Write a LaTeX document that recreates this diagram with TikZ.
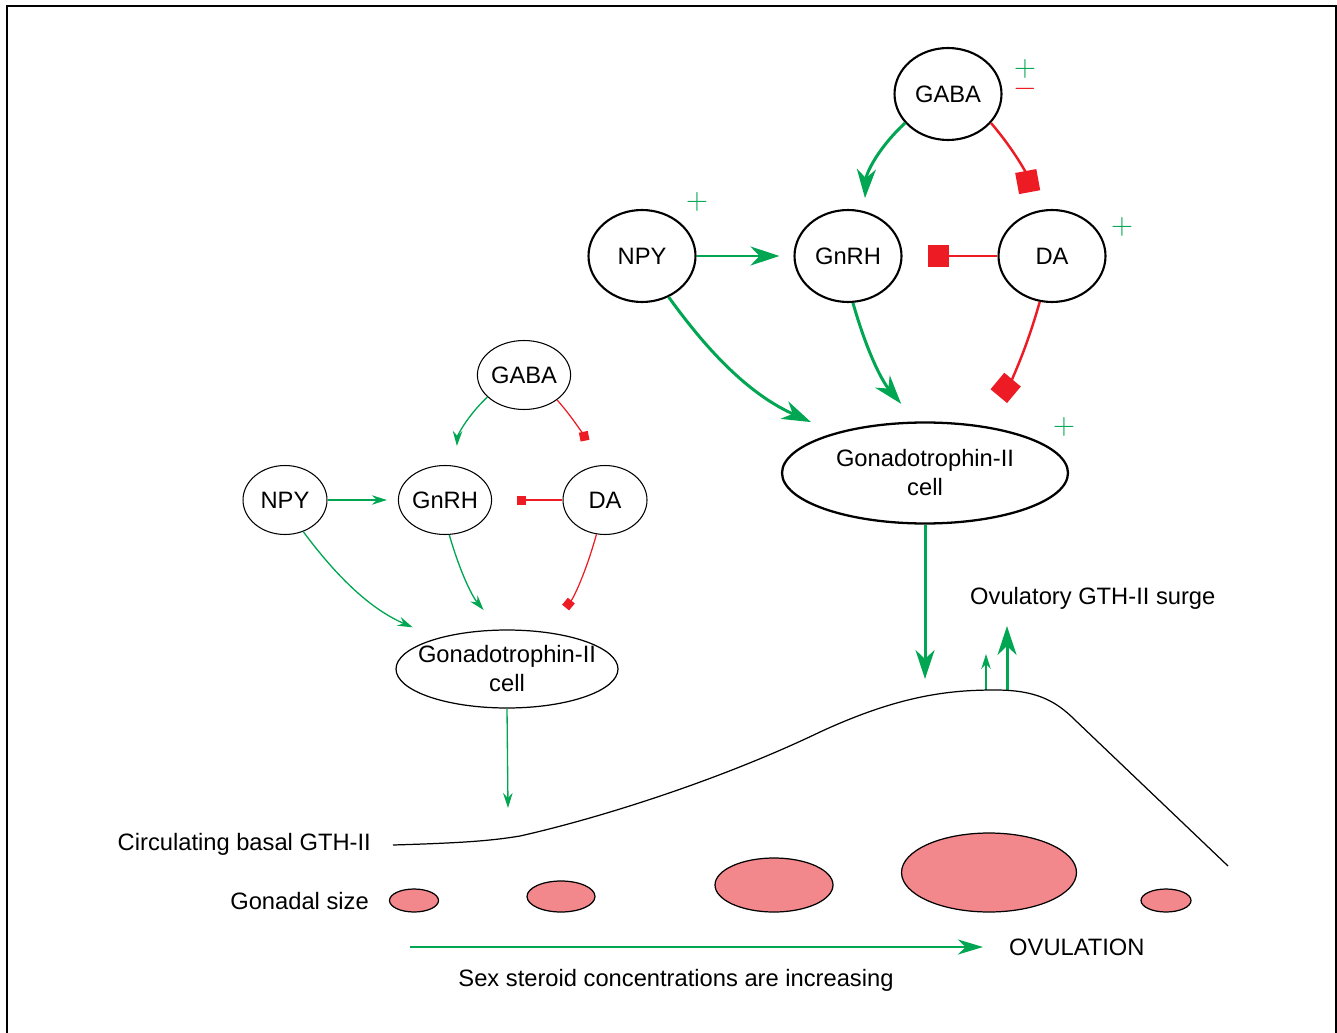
\documentclass[tikz,border=0pt]{standalone}
\usepackage{fontspec}
\setmainfont{Liberation Sans}
\usetikzlibrary{arrows.meta,shapes.geometric}
\definecolor{sgreen}{RGB}{0,166,81}
\definecolor{sred}{RGB}{237,28,36}
\definecolor{gonad}{RGB}{242,135,140}

\begin{document}
\begin{tikzpicture}[x=0.02cm,y=-0.02cm,
  font=\fontsize{13.5}{16.5}\selectfont,
  bigcell/.style={ellipse,draw,line width=1.2pt,inner sep=0pt,minimum width=2.14cm,minimum height=1.84cm},
  smallcell/.style={ellipse,draw,line width=0.6pt,inner sep=0pt,minimum width=1.68cm,minimum height=1.38cm},
  sign/.style={font=\fontsize{19}{11.3}\selectfont,inner sep=0pt},
  thickarr/.style={sgreen,line width=1.7pt,-{Stealth[length=0.58cm,width=0.38cm,inset=0.18cm]}},
  thinarr/.style={sgreen,line width=0.75pt,-{Stealth[length=0.3cm,width=0.19cm,inset=0.1cm]}},
  midarr/.style={sgreen,line width=1.1pt,-{Stealth[length=0.5cm,width=0.3cm,inset=0.15cm]}},
  thickinh/.style={sred,line width=1.4pt,-{Square[length=0.43cm,width=0.43cm]}},
  thininh/.style={sred,line width=0.7pt,-{Square[length=0.18cm,width=0.18cm]}},
  gonadal/.style={fill=gonad,draw,line width=0.7pt}]
\useasboundingbox (0,0) rectangle (1337,1033);
\draw[line width=1.1pt] (7,1040) -- (7,6) -- (1336,6) -- (1336,1040);

\node[bigcell] (tgaba) at (948,94) {GABA};
\node[bigcell] (tnpy) at (642,256) {NPY};
\node[bigcell] (tgnrh) at (848,256) {GnRH};
\node[bigcell] (tda) at (1052,256) {DA};
\node[ellipse,draw,line width=1.3pt,inner sep=0pt,minimum width=5.72cm,minimum height=2.02cm,align=center] (tgc) at (925,473) {Gonadotrophin-II\\cell};
\node[sign,align=center] (pmgaba) at (1025,79) {\lineskiplimit=-30pt\textcolor{sgreen}{$+$}\\\textcolor{sred}{$-$}};
\node[sign,sgreen] (pnpy) at (697,202) {$+$};
\node[sign,sgreen] (pda) at (1122,227) {$+$};
\node[sign,sgreen] (pgc) at (1064,427) {$+$};

\draw[thickarr,shorten >=0.28cm] (tnpy.east) -- (tgnrh.west);
\draw[thickinh,shorten >=0.5cm] (tda.west) -- (tgnrh.east);
\draw[thickarr,shorten >=0.26cm] (tgaba.214) to[bend right=22] (tgnrh.70);
\draw[thickinh,shorten >=0.4cm] (tgaba.326) to[bend left=15] (tda.113);
\draw[thickarr,shorten >=0.52cm] (tnpy.303) to[bend right=15] (tgc.156);
\draw[thickarr,shorten >=0.46cm] (tgnrh.276) to[bend right=12] (tgc.100);
\draw[thickinh,shorten >=0.74cm] (tda.255) to[bend left=12] (tgc.44);

\node[smallcell] (sgaba) at (524,375) {GABA};
\node[smallcell] (snpy) at (285,500) {NPY};
\node[smallcell] (sgnrh) at (445,500) {GnRH};
\node[smallcell] (sda) at (605,500) {DA};
\node[ellipse,draw,line width=0.7pt,inner ysep=0pt,inner xsep=-0.22cm,minimum width=4.44cm,minimum height=1.56cm,align=center] (sgc) at (507,669) {Gonadotrophin-II\\cell};

\draw[thinarr,shorten >=0.22cm] (snpy.east) -- (sgnrh.west);
\draw[thininh,shorten >=0.5cm] (sda.west) -- (sgnrh.east);
\draw[thinarr,shorten >=0.4cm] (sgaba.211) to[bend right=22] (sgnrh.72);
\draw[thininh,shorten >=0.54cm] (sgaba.323) to[bend left=15] (sda.114);
\draw[thinarr,shorten >=0.54cm] (snpy.300) to[bend right=15] (sgc.156);
\draw[thinarr,shorten >=0.51cm] (sgnrh.277) to[bend right=12] (sgc.100);
\draw[thininh,shorten >=0.63cm] (sda.256) to[bend left=12] (sgc.44);

\coordinate (basal) at (508,808);
\coordinate (peak) at (925,679);
\draw[thinarr] (sgc.south) -- (basal);
\draw[thickarr] (tgc.south) -- (peak);
\draw[thinarr] (986,690) -- (986,654);
\draw[thickarr] (1007,691) -- (1007,626);

\draw[line width=0.7pt] (393,845) .. controls (460,843) and (490,841) .. (520,836) .. controls (600,818) and (720,780) .. (820,732) .. controls (900,695) and (950,690) .. (995,690) .. controls (1035,690) and (1055,700) .. (1075,720) -- (1228,866);

\node[anchor=east] (circ) at (377,844) {Circulating basal GTH-II};
\node[anchor=east] (gsize) at (375,901) {Gonadal size};
\node[anchor=west] (surge) at (964,598) {Ovulatory GTH-II surge};
\node[anchor=west] (ovul) at (1003,947) {OVULATION};
\node (steroid) at (676,980) {Sex steroid concentrations are increasing};

\draw[gonadal] (414,900.5) ellipse [x radius=0.49cm,y radius=0.23cm];
\draw[gonadal] (561,896.5) ellipse [x radius=0.68cm,y radius=0.31cm];
\draw[gonadal] (774,885) ellipse [x radius=1.18cm,y radius=0.54cm];
\draw[gonadal] (989,872.5) ellipse [x radius=1.75cm,y radius=0.79cm];
\draw[gonadal] (1166,900.5) ellipse [x radius=0.5cm,y radius=0.23cm];

\coordinate (rise) at (410,947);
\draw[midarr,shorten >=0.4cm] (rise) -- (ovul.west);
\end{tikzpicture}
\end{document}
